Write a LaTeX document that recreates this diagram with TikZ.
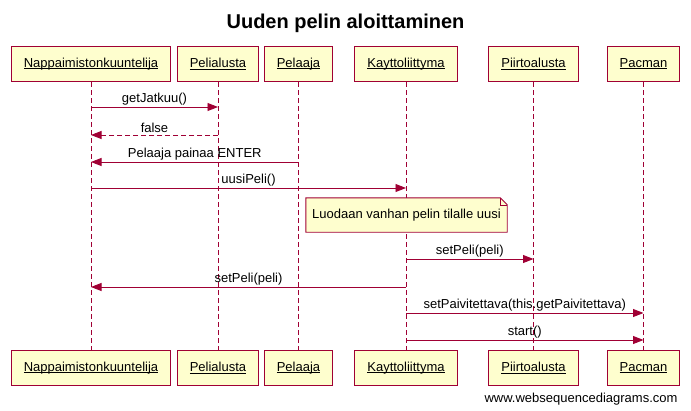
\documentclass[tikz,border=0pt]{standalone}
\usepackage{fontspec}
\setmainfont{Liberation Sans}
\usetikzlibrary{arrows.meta,positioning}
\definecolor{wsdred}{RGB}{160,0,52}
\definecolor{wsdfill}{RGB}{254,254,206}
\newcommand{\uname}[1]{\setbox0\hbox{#1}\rlap{\rule[-1.6pt]{\wd0}{0.8pt}}\box0}

\begin{document}
\begin{tikzpicture}[x=1pt, y=-1pt, on grid, >={Triangle[length=10.5pt,width=8pt]},
        every node/.style={font=\fontsize{13pt}{15pt}\selectfont},
        actor/.style={draw=wsdred, fill=wsdfill, line width=1.2pt, minimum height=35pt, inner xsep=12.5pt},
        lifeline/.style={draw=wsdred, line width=0.9pt, dash pattern=on 5pt off 3pt},
        msg/.style={->, draw=wsdred, line width=0.9pt},
        reply/.style={msg, dash pattern=on 5pt off 3pt},
        lbl/.style={above, inner sep=1.5pt},
        notebox/.style={minimum width=201pt, minimum height=34pt, inner sep=0pt}]
        \useasboundingbox (0,0) rectangle (691,410);

        \node[font=\bfseries\fontsize{20pt}{24pt}\selectfont] (title) at (345.5,23) {Uuden pelin aloittaminen};

        % objects on top
        \node[actor] (nk) at (91,64) {\uname{Nappaimistonkuuntelija}};
        \node[actor, right=127pt of nk] (pa) {\uname{Pelialusta}};
        \node[actor, right=80.5pt of pa] (pl) {\uname{Pelaaja}};
        \node[actor, right=107.5pt of pl] (kl) {\uname{Kayttoliittyma}};
        \node[actor, right=127.5pt of kl] (pi) {\uname{Piirtoalusta}};
        \node[actor, right=110pt of pi] (pm) {\uname{Pacman}};

        % objects at the bottom
        \node[actor, below=304pt of nk] (nkb) {\uname{Nappaimistonkuuntelija}};
        \node[actor, below=304pt of pa] (pab) {\uname{Pelialusta}};
        \node[actor, below=304pt of pl] (plb) {\uname{Pelaaja}};
        \node[actor, below=304pt of kl] (klb) {\uname{Kayttoliittyma}};
        \node[actor, below=304pt of pi] (pib) {\uname{Piirtoalusta}};
        \node[actor, below=304pt of pm] (pmb) {\uname{Pacman}};

        \draw[lifeline] (nk) -- (nkb);
        \draw[lifeline] (pa) -- (pab);
        \draw[lifeline] (pl) -- (plb);
        \draw[lifeline] (kl) -- (klb);
        \draw[lifeline] (pi) -- (pib);
        \draw[lifeline] (pm) -- (pmb);

        % note
        \node[notebox] (note) at (406.5,215) {};
        \draw[draw=wsdred, fill=wsdfill, line width=0.9pt] (note.north west) -- ([xshift=-7pt]note.north east)
            -- ([yshift=-7pt]note.north east) -- (note.south east) -- (note.south west) -- cycle;
        \draw[draw=wsdred, line width=0.6pt] ([xshift=-7pt]note.north east) -- ([xshift=-7pt,yshift=-7pt]note.north east)
            -- ([yshift=-7pt]note.north east);
        \node[notebox] at (note) {Luodaan vanhan pelin tilalle uusi};

        % message rows
        \coordinate (r1) at (0,107);
        \coordinate (r2) at (0,135);
        \coordinate (r3) at (0,162);
        \coordinate (r4) at (0,188);
        \coordinate (r5) at (0,259);
        \coordinate (r6) at (0,287);
        \coordinate (r7) at (0,313);
        \coordinate (r8) at (0,340);

        \path (nk |- r1) edge[msg] node[lbl]{getJatkuu()} (pa |- r1);
        \path (pa |- r2) edge[reply] node[lbl]{false} (nk |- r2);
        \path (pl |- r3) edge[msg] node[lbl]{Pelaaja painaa ENTER} (nk |- r3);
        \path (nk |- r4) edge[msg] node[lbl]{uusiPeli()} (kl |- r4);
        \path (kl |- r5) edge[msg] node[lbl]{setPeli(peli)} (pi |- r5);
        \path (kl |- r6) edge[msg] node[lbl]{setPeli(peli)} (nk |- r6);
        \path (kl |- r7) edge[msg] node[lbl]{setPaivitettava(this.getPaivitettava)} (pm |- r7);
        \path (kl |- r8) edge[msg] node[lbl]{start()} (pm |- r8);

        \node (footer) at (581,399) {www.websequencediagrams.com};
    \end{tikzpicture}
\end{document}
